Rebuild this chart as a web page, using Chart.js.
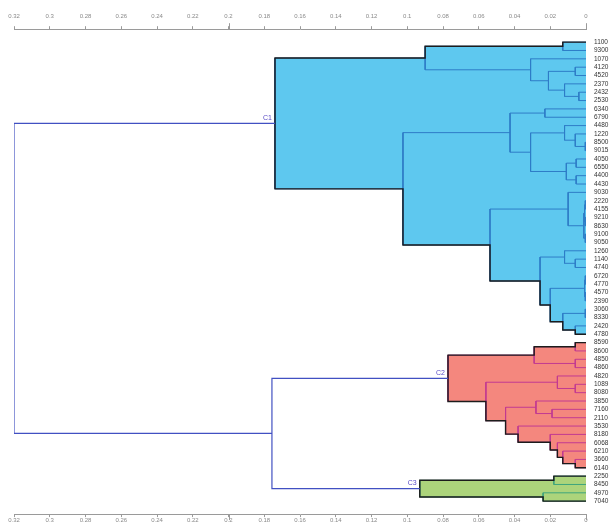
<!DOCTYPE html>
<html>
<head>
<meta charset="utf-8">
<title>Dendrogramme</title>
<script src="https://cdn.jsdelivr.net/npm/chart.js@4.4.0/dist/chart.umd.min.js"></script>
<style>
  html, body { margin: 0; padding: 0; background: #fff; overflow: hidden; }
  #dendro { display: block; }
</style>
</head>
<body>
<canvas id="dendro" width="611" height="526"></canvas>
<script>
// feuilles, de haut en bas
const leafLabels = [
  "1100", "9300", "1070", "4120", "4520", "2370", "2432", "2530", "6340", "6790",
  "4480", "1220", "8500", "9015", "4050", "6550", "4400", "4430", "9030", "2220",
  "4155", "9210", "8630", "9100", "9050", "1260", "1140", "4740", "6720", "4770",
  "4570", "2390", "3060", "8330", "2420", "4780",
  "8590", "8600", "4850", "4860", "4820", "1089", "8080", "3850", "7160", "2110",
  "3530", "8180", "6068", "6210", "3660", "6140",
  "2250", "8450", "4970", "7040"
];

// fusions [a, b, distance] ; index < 56 = feuille, sinon 56 + numéro de ligne
const merges = [
  [0, 1, 0.013], [3, 4, 0.006], [6, 7, 0.004], [5, 58, 0.012], [57, 59, 0.021],
  [2, 60, 0.031], [56, 61, 0.090],
  [8, 9, 0.023], [12, 13, 0.0004], [11, 64, 0.006], [10, 65, 0.012],
  [14, 15, 0.0055], [16, 17, 0.0055], [67, 68, 0.011], [66, 69, 0.031], [63, 70, 0.0425],
  [19, 20, 0.0004], [21, 22, 0.0004], [72, 73, 0.0008], [23, 24, 0.0004], [74, 75, 0.0012],
  [18, 76, 0.010],
  [26, 27, 0.006], [25, 78, 0.012], [28, 29, 0.0004], [30, 31, 0.0004], [80, 81, 0.0008],
  [32, 33, 0.0004], [34, 35, 0.006], [83, 84, 0.013], [82, 85, 0.020], [79, 86, 0.0257],
  [77, 87, 0.0537], [71, 88, 0.1024], [62, 89, 0.174],
  [36, 37, 0.006], [38, 39, 0.006], [91, 92, 0.029], [41, 42, 0.006], [40, 94, 0.016],
  [44, 45, 0.019], [43, 96, 0.028], [50, 51, 0.006], [49, 98, 0.013], [48, 99, 0.016],
  [47, 100, 0.020], [46, 101, 0.038], [97, 102, 0.045], [95, 103, 0.056], [93, 104, 0.0772],
  [52, 53, 0.018], [54, 55, 0.024], [106, 107, 0.093],
  [105, 108, 0.1757], [90, 109, 0.32]
];

const clusterRoots = [90, 105, 108];
const clusterNames = ["C1", "C2", "C3"];
const majorTicks = [0.2, 0];

const clusterFill = ["#5ec8ef", "#f4877e", "#acd47b"];
const clusterLine = ["#2e7cc7", "#c23a92", "#3ea57d"];
const axisColor = "#9a9a9a";

const nLeaves = leafLabels.length;
const nodeY = leafLabels.map((_, i) => i);
const nodeH = leafLabels.map(() => 0);
merges.forEach(([a, b, h]) => {
  nodeY.push((nodeY[a] + nodeY[b]) / 2);
  nodeH.push(h);
});
const kids = id => merges[id - nLeaves];

function subtree(id, out = []) {
  if (id >= nLeaves) {
    out.push(id);
    subtree(kids(id)[0], out);
    subtree(kids(id)[1], out);
  }
  return out;
}

function link(id) {
  const [a, b] = kids(id);
  return [
    { x: nodeH[a], y: nodeY[a] }, { x: nodeH[id], y: nodeY[a] },
    { x: nodeH[id], y: nodeY[b] }, { x: nodeH[b], y: nodeY[b] },
    { x: null, y: null }
  ];
}

// bord haut ou bas d'un groupe
function envelope(root, top) {
  const pts = [];
  let node = root;
  while (node >= nLeaves) {
    const [a, b] = kids(node);
    const upper = nodeY[a] < nodeY[b] ? a : b;
    const c = top ? upper : (upper === a ? b : a);
    pts.push({ x: nodeH[node], y: nodeY[c] }, { x: nodeH[c], y: nodeY[c] });
    node = c;
  }
  return pts;
}

const datasets = [];
const inClusters = new Set();
clusterRoots.forEach((root, i) => {
  const nodes = subtree(root);
  nodes.forEach(n => inClusters.add(n));
  const shape = envelope(root, true).reverse().concat(envelope(root, false));
  datasets.push({ data: shape, fill: "shape", backgroundColor: clusterFill[i],
    borderColor: "transparent", borderWidth: 0, order: 4 });
  datasets.push({ data: nodes.flatMap(link), borderColor: clusterLine[i],
    borderWidth: 1, fill: false, order: 3 });
  datasets.push({ data: shape, borderColor: "#1c1c1c", borderWidth: 1.4, fill: false, order: 2 });
});
const upper = merges.map((_, k) => nLeaves + k).filter(id => !inClusters.has(id));
datasets.push({ data: upper.flatMap(link), borderColor: "#4150c2", borderWidth: 1.2,
  fill: false, order: 1 });

const fmt = v => String(+v.toFixed(2));

const xAxis = (position, pad) => ({
  type: "linear",
  axis: "x",
  position,
  min: 0,
  max: 0.32,
  reverse: true,
  grid: { drawOnChartArea: false, drawTicks: true, tickLength: 3, color: axisColor },
  border: { display: true, color: axisColor },
  ticks: { stepSize: 0.02, padding: pad, color: "#8a8a8a", font: { size: 6 },
    maxRotation: 0, autoSkip: false, callback: fmt }
});

// libellés des groupes et graduations longues
const extras = {
  id: "extras",
  afterDatasetsDraw(chart) {
    const { ctx, scales } = chart;
    const x = scales.x, y = scales.y;
    ctx.save();
    ctx.font = "7px 'Liberation Sans', Arial, sans-serif";
    ctx.fillStyle = "#5a4cc6";
    ctx.textAlign = "right";
    ctx.textBaseline = "bottom";
    clusterRoots.forEach((id, i) => {
      ctx.fillText(clusterNames[i], x.getPixelForValue(nodeH[id]) - 3,
        y.getPixelForValue(nodeY[id]) - 2);
    });
    ctx.strokeStyle = axisColor;
    ctx.lineWidth = 1;
    ctx.beginPath();
    majorTicks.forEach(v => {
      const px = Math.round(x.getPixelForValue(v)) + 0.5;
      ctx.moveTo(px, chart.chartArea.top);
      ctx.lineTo(px, chart.chartArea.top - 6);
      ctx.moveTo(px, chart.chartArea.bottom);
      ctx.lineTo(px, chart.chartArea.bottom + 6);
    });
    ctx.stroke();
    ctx.restore();
  }
};

Chart.defaults.font.family = "'Liberation Sans', Arial, sans-serif";

new Chart(document.getElementById("dendro"), {
  type: "line",
  data: { datasets },
  options: {
    responsive: false,
    devicePixelRatio: 1,
    animation: false,
    events: [],
    layout: { padding: { top: 7, left: 14, right: 0, bottom: 0 } },
    elements: {
      point: { radius: 0 },
      line: { tension: 0, borderJoinStyle: "miter", borderCapStyle: "butt" }
    },
    plugins: { legend: { display: false }, tooltip: { enabled: false } },
    scales: {
      x: xAxis("top", 6),
      x2: xAxis("bottom", 0),
      y: {
        type: "linear",
        position: "right",
        reverse: true,
        min: -1.55,
        max: nLeaves - 1 + 1.55,
        grid: { display: false, drawTicks: false },
        border: { display: false },
        afterBuildTicks: s => { s.ticks = leafLabels.map((_, i) => ({ value: i })); },
        afterFit: s => { s.width = 25; },
        ticks: { autoSkip: false, padding: 8, color: "#333", font: { size: 6.5 },
          callback: v => leafLabels[v] }
      }
    }
  },
  plugins: [extras]
});
</script>
</body>
</html>
